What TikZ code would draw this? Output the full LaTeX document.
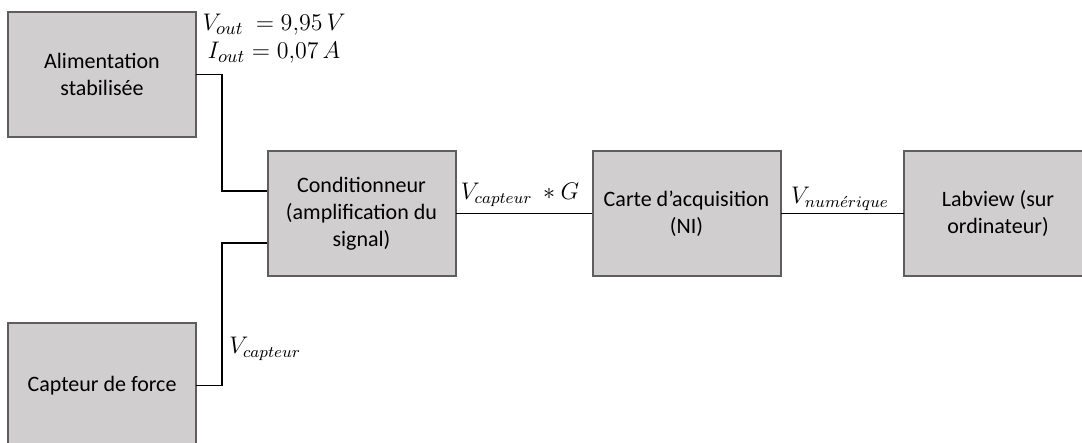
\documentclass[tikz,border=0pt]{standalone}
\usepackage{amsmath,amssymb}
\usepackage{fontspec}
\setmainfont{Carlito}
\usepackage{tikz}
\usepackage{xcolor}
\definecolor{boxfill}{HTML}{D0CECE}
\definecolor{boxline}{HTML}{5E5E5E}

\begin{document}
\begin{tikzpicture}[x=0.5pt,y=-0.5pt,font=\fontsize{11}{13.6}\selectfont,line cap=rect,
  bloc/.style={draw=boxline,fill=boxfill,line width=1pt,minimum width=94pt,minimum height=62.5pt,align=center,inner sep=0pt},
  wire/.style={black,line width=0.75pt},
  grandeur/.style={inner sep=1pt,font=\fontsize{11.5}{14}\selectfont}]
\useasboundingbox (0,0) rectangle (1082,443);
% blocs
\node[bloc] (alim) at (102,74.5) {Alimentation\\stabilisée};
\node[bloc] (capteur) at (102,385.5) {Capteur de force};
\node[bloc] (cond) at (361.5,213.5) {Conditionneur\\(amplification du\\signal)};
\node[bloc] (carte) at (686.5,213.5) {Carte d’acquisition\\(NI)};
\node[bloc] (labview) at (998,213.5) {Labview (sur\\ordinateur)};
% liaisons
\draw[wire] (alim.east) -- ++(25,0) |- ([yshift=11.25pt]cond.west);
\draw[wire] (capteur.east) -- ++(25,0) |- ([yshift=-14.75pt]cond.west);
\draw[wire] (cond) -- (carte);
\draw[wire] (carte) -- (labview);
% grandeurs
\node[grandeur,align=center,font=\fontsize{12.5}{14}\selectfont] (sortie) at (274,39) {$V_{out}\ = 9{,}95\,V$\\$I_{out} = 0{,}07\,A$};
\node[grandeur] (vamp) at (520,195) {$V_{capteur}\ \ast G$};
\node[grandeur] (vnum) at (840,199) {$V_{num\acute{e}rique}$};
\node[grandeur,anchor=west] (vcapt) at (227,349) {$V_{capteur}$};
\end{tikzpicture}
\end{document}
